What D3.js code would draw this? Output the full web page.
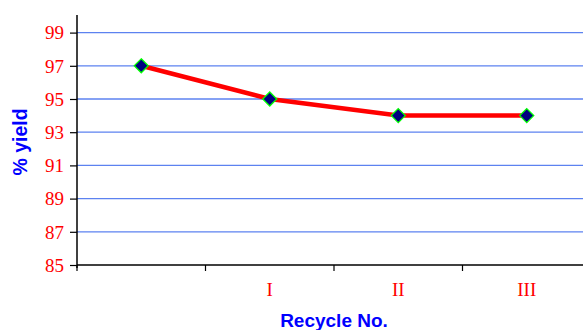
<!DOCTYPE html>
<html>
<head>
<meta charset="utf-8">
<script src="https://cdn.jsdelivr.net/npm/d3@7"></script>
<style>
  html, body { margin: 0; padding: 0; background: #fff; }
  svg { display: block; }
</style>
</head>
<body>
<svg id="chart" width="583" height="330"></svg>
<script>
// Recycle runs and the yield obtained in each
const categories = ["Fresh", "I", "II", "III"];
const tickLabels = ["", "I", "II", "III"];
const yieldValues = [97, 95, 94, 94];
const yTicks = [85, 87, 89, 91, 93, 95, 97, 99];

const svg = d3.select("#chart");
const margin = { left: 77, top: 16, bottom: 265 };
const plotRight = 591;

const x = d3.scaleBand().domain(categories).range([margin.left, plotRight]);
const y = d3.scaleLinear().domain([85, 100]).range([margin.bottom, margin.top]);

// Horizontal grid lines
svg.append("g")
  .selectAll("line")
  .data(yTicks.filter(t => t > 85))
  .join("line")
  .attr("x1", margin.left).attr("x2", plotRight)
  .attr("y1", d => y(d)).attr("y2", d => y(d))
  .attr("stroke", "#5c82f0").attr("stroke-width", 1.3);

// Y axis
const yAxis = svg.append("g")
  .attr("transform", `translate(${margin.left},0)`)
  .call(d3.axisLeft(y).tickValues(yTicks).tickSize(7).tickSizeOuter(0).tickPadding(6));
yAxis.select(".domain").attr("stroke", "#000").attr("stroke-width", 1.5)
  .attr("d", `M0,${margin.top - 1}V${margin.bottom + 3}`);
yAxis.selectAll(".tick line").attr("stroke", "#000").attr("stroke-width", 1.2);
yAxis.selectAll(".tick text")
  .attr("fill", "#ff0000")
  .attr("font-family", "'Liberation Serif', 'Times New Roman', serif")
  .attr("font-size", 19)
  .attr("dy", "0.33em");

// X axis: ticks on band boundaries, labels at band centres
const xAxisG = svg.append("g").attr("transform", `translate(0,${margin.bottom})`);
xAxisG.append("line")
  .attr("x1", margin.left).attr("x2", plotRight)
  .attr("stroke", "#000").attr("stroke-width", 1.5);
xAxisG.selectAll("line.tk")
  .data(categories)
  .join("line")
  .attr("class", "tk")
  .attr("x1", d => x(d)).attr("x2", d => x(d))
  .attr("y1", 0).attr("y2", 6)
  .attr("stroke", "#000").attr("stroke-width", 1.2);
xAxisG.selectAll("text")
  .data(categories)
  .join("text")
  .attr("x", d => x(d) + x.bandwidth() / 2)
  .attr("y", 31)
  .attr("text-anchor", "middle")
  .attr("fill", "#ff0000")
  .attr("font-family", "'Liberation Serif', 'Times New Roman', serif")
  .attr("font-size", 19)
  .text((d, i) => tickLabels[i]);

// Yield line
const cx = d => x(d) + x.bandwidth() / 2;
svg.append("path")
  .datum(categories.map((c, i) => [cx(c), y(yieldValues[i])]))
  .attr("d", d3.line())
  .attr("fill", "none")
  .attr("stroke", "#ff0000")
  .attr("stroke-width", 4.5);

// Diamond markers
svg.append("g")
  .selectAll("path")
  .data(categories)
  .join("path")
  .attr("transform", (d, i) => `translate(${cx(d)},${y(yieldValues[i])})`)
  .attr("d", "M0,-7L7,0L0,7L-7,0Z")
  .attr("fill", "#000080")
  .attr("stroke", "#00ff00")
  .attr("stroke-width", 1.3);

// Axis titles
svg.append("text")
  .attr("x", 334).attr("y", 327)
  .attr("text-anchor", "middle")
  .attr("fill", "#0000ff")
  .attr("font-family", "'Liberation Sans', Arial, sans-serif")
  .attr("font-weight", "bold")
  .attr("font-size", 19)
  .text("Recycle No.");

svg.append("text")
  .attr("transform", "translate(27,142) rotate(-90)")
  .attr("text-anchor", "middle")
  .attr("fill", "#0000ff")
  .attr("font-family", "'Liberation Sans', Arial, sans-serif")
  .attr("font-weight", "bold")
  .attr("font-size", 19.5)
  .text("% yield");
</script>
</body>
</html>
